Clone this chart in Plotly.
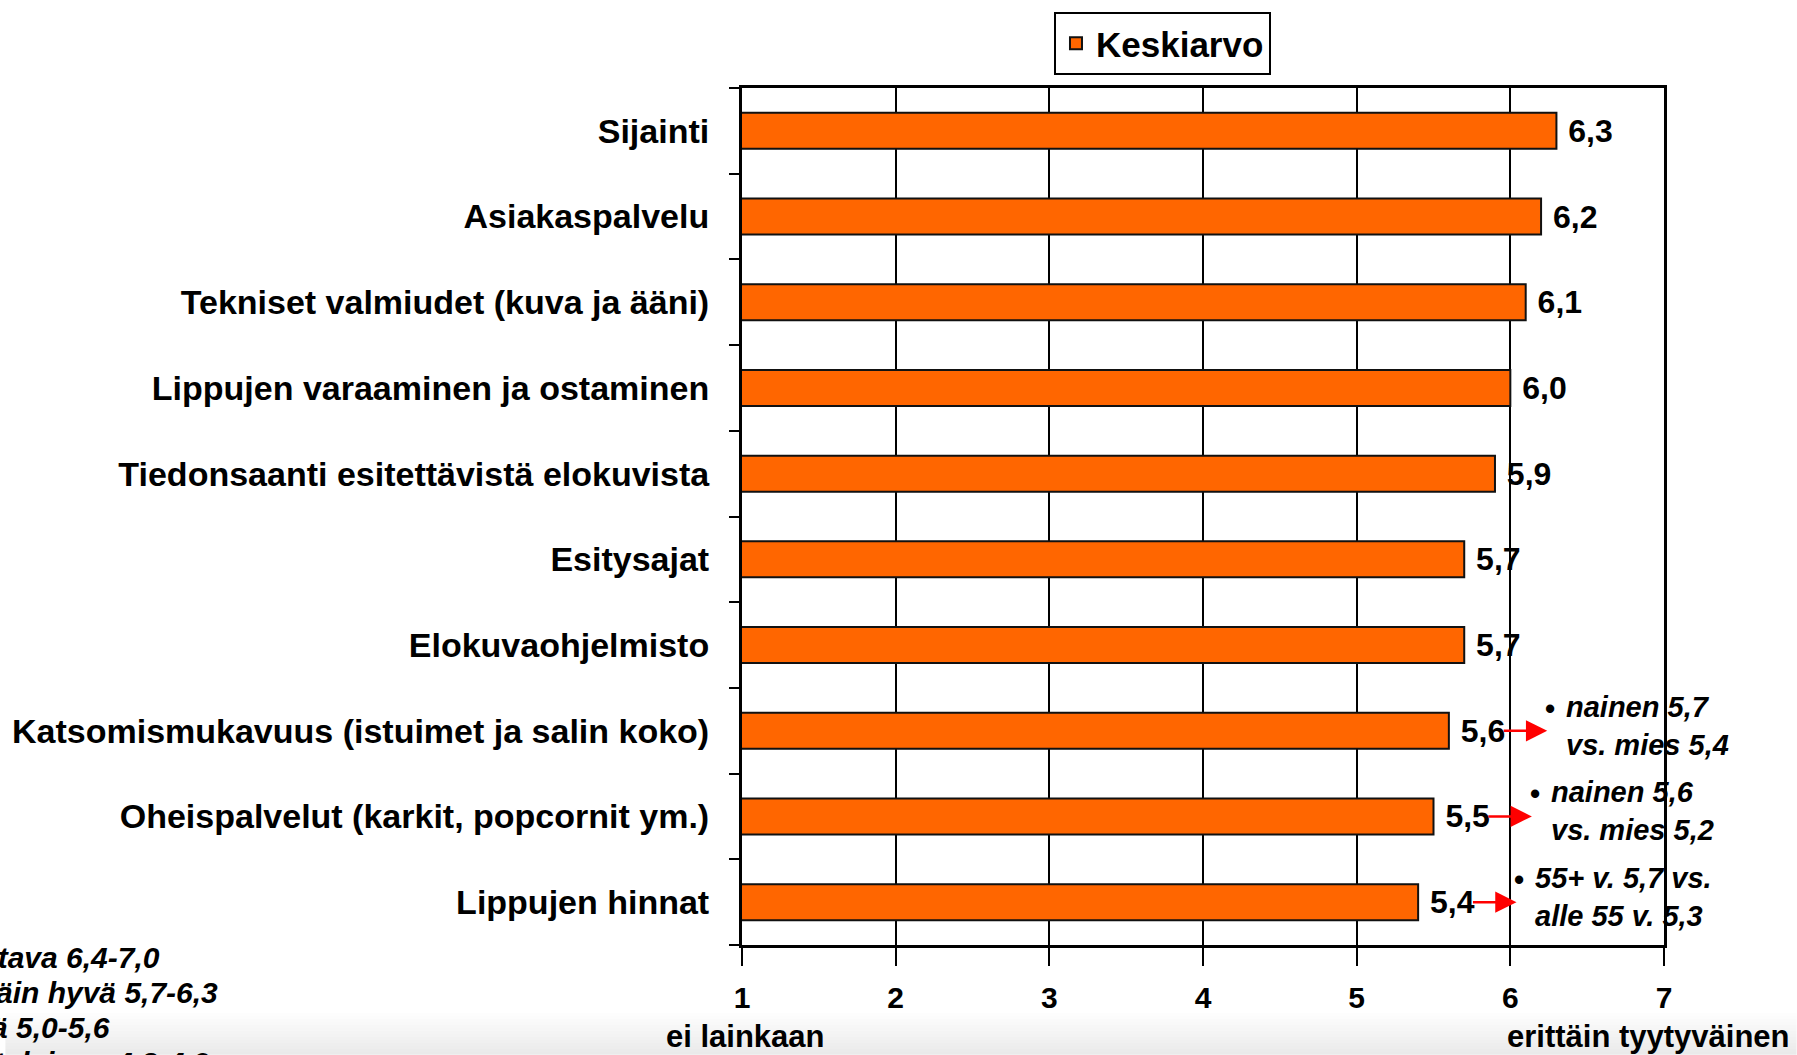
import plotly.graph_objects as go

# ---------------- Data ----------------
categories = [
    "Sijainti",
    "Asiakaspalvelu",
    "Tekniset valmiudet (kuva ja ääni)",
    "Lippujen varaaminen ja ostaminen",
    "Tiedonsaanti esitettävistä elokuvista",
    "Esitysajat",
    "Elokuvaohjelmisto",
    "Katsomismukavuus (istuimet ja salin koko)",
    "Oheispalvelut (karkit, popcornit ym.)",
    "Lippujen hinnat",
]
keskiarvo = [6.3, 6.2, 6.1, 6.0, 5.9, 5.7, 5.7, 5.6, 5.5, 5.4]
x_ticks = [1, 2, 3, 4, 5, 6, 7]

note_categories = [
    "Katsomismukavuus (istuimet ja salin koko)",
    "Oheispalvelut (karkit, popcornit ym.)",
    "Lippujen hinnat",
]
note_lines = [
    ["nainen 5,7", "vs. mies 5,4"],
    ["nainen 5,6", "vs. mies 5,2"],
    ["55+ v. 5,7 vs.", "alle 55 v. 5,3"],
]
scale_lines = [
    "Loistava 6,4-7,0",
    "Erittäin hyvä 5,7-6,3",
    "Hyvä 5,0-5,6",
    "Kohtalainen 4,3-4,9",
]

# ---------------- Layout constants ----------------
W, H = 1797, 1055
L, R, T, B = 739, 1664, 87, 945
ORANGE = "#FF6600"
FONT = "Arial, Liberation Sans, sans-serif"


def px_x(x):
    return (x - L) / (R - L)


def px_y(y):
    return (B - y) / (B - T)


value_text = [" " + f"{v:.1f}".replace(".", ",") for v in keskiarvo]

fig = go.Figure()
fig.add_trace(go.Bar(
    y=categories,
    x=keskiarvo,
    orientation="h",
    name="Keskiarvo",
    width=0.42,
    marker=dict(color=ORANGE, line=dict(color="#111111", width=2)),
    text=value_text,
    textposition="outside",
    constraintext="none",
    cliponaxis=False,
    textfont=dict(family=FONT, size=32, color="black", weight="bold"),
    hovertemplate="%{y}:%{text}<extra></extra>",
))

annotations = []

# notes with red arrows
for cat, lines in zip(note_categories, note_lines):
    v = keskiarvo[categories.index(cat)]
    head = v + 0.64
    annotations.append(dict(
        x=head, y=cat, xref="x", yref="y", text="", showarrow=True,
        ax=-45, ay=0, axref="pixel", ayref="pixel",
        arrowhead=2, arrowsize=1.7, arrowwidth=2.5, arrowcolor="#FF0000",
    ))
    annotations.append(dict(
        x=head, y=cat, xref="x", yref="y", text="<b>•</b>", showarrow=False,
        xanchor="center", yanchor="middle", xshift=3, yshift=22,
        font=dict(family=FONT, size=29, color="black"),
    ))
    annotations.append(dict(
        x=head, y=cat, xref="x", yref="y",
        text="<br>".join(f"<b><i>{s}</i></b>" for s in lines),
        showarrow=False, align="left", xanchor="left", yanchor="middle",
        xshift=17, yshift=5,
        font=dict(family=FONT, size=29, color="black"),
    ))

# axis end labels
annotations.append(dict(
    x=1, y=px_y(1037), xref="x", yref="paper", text="<b>ei lainkaan</b>",
    showarrow=False, xanchor="center", yanchor="middle", xshift=3,
    font=dict(family=FONT, size=31, color="black"),
))
annotations.append(dict(
    x=7, y=px_y(1037), xref="x", yref="paper", text="<b>erittäin tyytyväinen</b>",
    showarrow=False, xanchor="center", yanchor="middle", xshift=-16,
    font=dict(family=FONT, size=31, color="black"),
))

# scale explanation (partly off the left edge, as in the source slide)
for i, s in enumerate(scale_lines):
    annotations.append(dict(
        x=px_x(-72), y=px_y(958 + 35 * i), xref="paper", yref="paper",
        text=f"<b><i>{s}</i></b>", showarrow=False,
        xanchor="left", yanchor="middle",
        font=dict(family=FONT, size=30, color="black"),
    ))

# light grey band at the bottom of the page
shapes = []
n_strips = 14
for i in range(n_strips):
    y0 = 1013 + i * 3
    g = int(255 - (255 - 234) * (i + 1) / n_strips)
    shapes.append(dict(
        type="rect", xref="paper", yref="paper", layer="below",
        x0=px_x(0), x1=px_x(W), y0=px_y(y0 + 3), y1=px_y(y0),
        fillcolor=f"rgb({g},{g},{g})", line=dict(width=0),
    ))

fig.update_layout(
    width=W,
    height=H,
    margin=dict(l=L, r=W - R, t=T, b=H - B),
    paper_bgcolor="white",
    plot_bgcolor="white",
    font=dict(family=FONT, color="black"),
    showlegend=True,
    legend=dict(
        x=px_x(1052), y=px_y(11), xanchor="left", yanchor="top",
        bordercolor="black", borderwidth=2, bgcolor="white",
        font=dict(family=FONT, size=35, color="black", weight="bold"),
    ),
    annotations=annotations,
    shapes=shapes,
    bargap=0.58,
)

fig.update_xaxes(
    range=[1, 7],
    tickvals=x_ticks,
    ticktext=[str(t) for t in x_ticks],
    showgrid=True, gridcolor="black", gridwidth=2,
    showline=True, linecolor="black", linewidth=3, mirror=True,
    ticks="outside", ticklen=18, tickwidth=2, tickcolor="black",
    ticklabelstandoff=6,
    tickfont=dict(family=FONT, size=30, color="black", weight="bold"),
    zeroline=False,
)
fig.update_yaxes(
    categoryorder="array",
    categoryarray=categories[::-1],
    showgrid=False,
    showline=True, linecolor="black", linewidth=3, mirror=True,
    ticks="outside", ticklen=10, tickwidth=2, tickcolor="black",
    tickson="boundaries",
    ticklabelstandoff=23,
    tickfont=dict(family=FONT, size=34, color="black", weight="bold"),
)

# page has no body margin in the reference
fig.write_html(
    "out.html",
    config={"displayModeBar": False},
    post_script="document.body.style.margin='0';",
)
